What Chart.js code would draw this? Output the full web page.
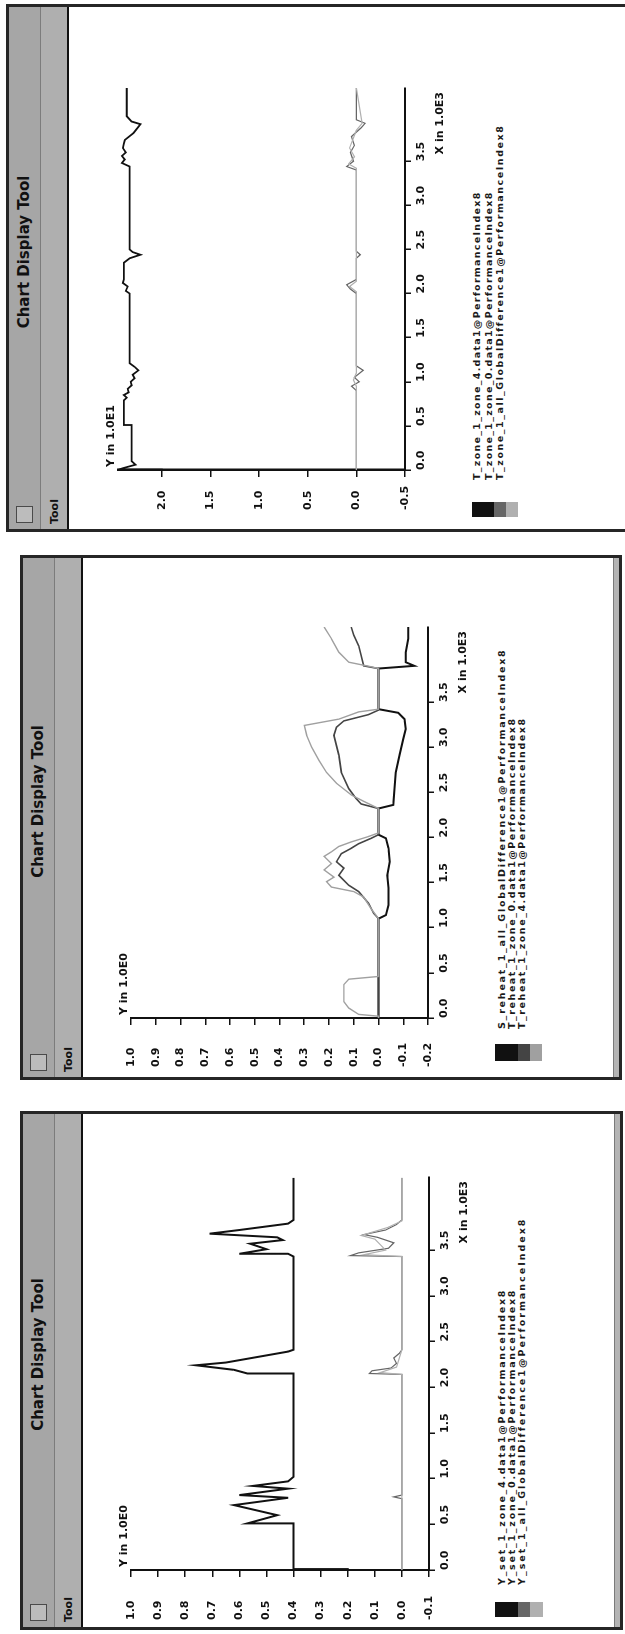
<!DOCTYPE html>
<html>
<head>
<meta charset="utf-8">
<title>Chart Display Tool</title>
<script src="https://cdn.jsdelivr.net/npm/chart.js@4.4.1/dist/chart.umd.min.js"></script>
<style>
  html, body { margin: 0; padding: 0; background: #fff; }
  body { width: 625px; height: 1634px; overflow: hidden; position: relative; }
  /* the desktop is laid out landscape and turned a quarter turn counter-clockwise */
  #desk { position: absolute; left: 0; top: 0; width: 1634px; height: 625px; overflow: hidden; background: #fff;
          transform-origin: 0 0; transform: translate(0, 1634px) rotate(-90deg); }
  .win { position: absolute; box-sizing: border-box; background: #fff; border: 3px solid #262626; }
  .title { position: absolute; left: 0; right: 0; top: 0; height: 31px; background: #a6a6a6; border-bottom: 1px solid #7c7c7c; }
  .title .name { position: absolute; left: 32px; right: 0; top: 6px; text-align: center;
                 font: bold 15px 'DejaVu Sans', sans-serif; color: #111; white-space: nowrap; }
  .close { position: absolute; left: 6px; top: 7px; width: 15px; height: 15px; border: 1px solid #4a4a4a; background: #bcbcbc; }
  .menu { position: absolute; left: 0; right: 0; top: 32px; height: 26px; background: #afafaf; border-bottom: 2px solid #111; }
  .menu span { position: absolute; left: 5px; top: 7px; font: bold 11px 'DejaVu Sans', sans-serif; color: #111; }
  .foot { position: absolute; left: 0; right: 0; bottom: 0; height: 5px; background: #b4b4b4; border-top: 1px solid #7a7a7a; }
  .plot { position: absolute; left: 0; top: 0; }
  .plot canvas { display: block; }
  .sw { position: absolute; }
  .sw i { display: block; }
  .lg { position: absolute; font: bold 9.5px 'DejaVu Sans', sans-serif; color: #1a1a1a; white-space: nowrap; }
  .lg span { display: inline-block; }
</style>
</head>
<body>
<div id="desk">
  <div class="win" style="left:4px;top:20px;width:519px;height:603px">
    <div class="title"><div class="close"></div><div class="name">Chart Display Tool</div></div>
    <div class="menu"><span>Tool</span></div>
    <div class="foot"></div>
  </div>
  <div class="win" style="left:554px;top:20px;width:525px;height:602px">
    <div class="title"><div class="close"></div><div class="name">Chart Display Tool</div></div>
    <div class="menu"><span>Tool</span></div>
    <div class="foot"></div>
  </div>
  <div class="win" style="left:1102px;top:6px;width:528px;height:640px">
    <div class="title"><div class="close"></div><div class="name">Chart Display Tool</div></div>
    <div class="menu"><span>Tool</span></div>
  </div>
  <div class="plot" id="plotSet"><canvas></canvas></div>
  <div class="plot" id="plotReheat"><canvas></canvas></div>
  <div class="plot" id="plotZone"><canvas></canvas></div>
</div>
<script>
// ---------- shared x ticks (time in 1.0E3) ----------
const xTickValues = [0, 0.5, 1.0, 1.5, 2.0, 2.5, 3.0, 3.5];

// ---------- Y_set window ----------
const setYTicks = [-0.1, 0.0, 0.1, 0.2, 0.3, 0.4, 0.5, 0.6, 0.7, 0.8, 0.9, 1.0];
const setZone4Label = 'Y_set_1_zone_4.data1@PerformanceIndex8';
const setZone4X = [0, 0.01, 0.51, 0.51, 0.60, 0.71, 0.79, 0.82, 0.89, 0.92, 0.97, 1.02, 2.15, 2.15, 2.19, 2.24, 2.27, 2.39, 2.41, 3.43, 3.46, 3.46, 3.51, 3.57, 3.61, 3.64, 3.68, 3.72, 3.79, 3.83, 4.29];
const setZone4Y = [0.20, 0.40, 0.40, 0.57, 0.46, 0.62, 0.42, 0.60, 0.42, 0.55, 0.42, 0.40, 0.40, 0.57, 0.62, 0.76, 0.65, 0.42, 0.40, 0.40, 0.42, 0.60, 0.50, 0.56, 0.44, 0.46, 0.71, 0.60, 0.42, 0.40, 0.40];
const setZone0Label = 'Y_set_1_zone_0.data1@PerformanceIndex8';
const setZone0X = [0, 0.78, 0.80, 0.82, 2.14, 2.15, 2.18, 2.21, 2.26, 2.32, 2.37, 2.41, 3.43, 3.44, 3.47, 3.52, 3.58, 3.64, 3.67, 3.72, 3.78, 3.83, 4.29];
const setZone0Y = [0, 0, 0.03, 0, 0, 0.12, 0.11, 0.04, 0.02, 0.03, 0.01, 0, 0, 0.19, 0.16, 0.05, 0.03, 0.09, 0.14, 0.06, 0.02, 0, 0];
const setDiffLabel = 'Y_set_1_all_GlobalDifference1@PerformanceIndex8';
const setDiffX = [0, 2.14, 2.16, 2.22, 2.41, 3.43, 3.45, 3.50, 3.62, 3.66, 3.75, 3.82, 4.29];
const setDiffY = [0, 0, 0.08, 0.02, 0, 0, 0.14, 0.06, 0.10, 0.15, 0.05, 0, 0];

// ---------- reheat window ----------
const reheatYTicks = [-0.2, -0.1, 0.0, 0.1, 0.2, 0.3, 0.4, 0.5, 0.6, 0.7, 0.8, 0.9, 1.0];
const reheatDiffLabel = 'S_reheat_1_all_GlobalDifference1@PerformanceIndex8';
const reheatDiffX = [0, 1.10, 1.14, 1.25, 1.44, 1.58, 1.73, 1.88, 1.99, 2.03, 2.32, 2.36, 2.54, 2.72, 2.91, 3.09, 3.20, 3.31, 3.38, 3.42, 3.87, 3.90, 3.94, 4.05, 4.20, 4.33];
const reheatDiffY = [0, 0, -0.03, -0.04, -0.04, -0.035, -0.045, -0.04, -0.03, 0, 0, -0.06, -0.065, -0.07, -0.085, -0.10, -0.11, -0.105, -0.08, 0, 0, -0.145, -0.11, -0.11, -0.12, -0.12];
const reheatZone0Label = 'T_reheat_1_zone_0.data1@PerformanceIndex8';
const reheatZone0X = [0, 1.10, 1.16, 1.27, 1.40, 1.47, 1.58, 1.66, 1.73, 1.82, 1.88, 1.93, 1.99, 2.03, 2.32, 2.37, 2.43, 2.54, 2.72, 2.91, 3.13, 3.22, 3.29, 3.36, 3.41, 3.87, 3.90, 4.01, 4.12, 4.24, 4.33];
const reheatZone0Y = [0, 0, 0.02, 0.04, 0.08, 0.12, 0.16, 0.14, 0.17, 0.15, 0.11, 0.08, 0.03, 0, 0, 0.07, 0.09, 0.12, 0.15, 0.16, 0.18, 0.17, 0.14, 0.04, 0, 0, 0.06, 0.07, 0.08, 0.10, 0.11];
const reheatZone4Label = 'T_reheat_1_zone_4.data1@PerformanceIndex8';
const reheatZone4X = [0, 0.02, 0.04, 0.11, 0.18, 0.37, 0.43, 0.45, 0.46, 1.10, 1.21, 1.34, 1.40, 1.45, 1.51, 1.56, 1.64, 1.71, 1.79, 1.84, 1.90, 1.95, 2.01, 2.05, 2.32, 2.40, 2.47, 2.60, 2.72, 2.85, 3.00, 3.13, 3.24, 3.31, 3.39, 3.42, 3.87, 3.89, 3.94, 4.05, 4.20, 4.33];
const reheatZone4Y = [0, 0, 0.08, 0.12, 0.14, 0.14, 0.12, 0.04, 0, 0, 0.03, 0.06, 0.10, 0.19, 0.21, 0.18, 0.22, 0.19, 0.22, 0.19, 0.16, 0.11, 0.04, 0, 0, 0.06, 0.11, 0.17, 0.21, 0.24, 0.27, 0.29, 0.30, 0.16, 0.08, 0, 0, 0.03, 0.12, 0.16, 0.19, 0.22];

// ---------- T_zone window (values in 1.0E1) ----------
const zoneYTicks = [-0.5, 0.0, 0.5, 1.0, 1.5, 2.0];
const zoneZone4Label = 'T_zone_1_zone_4.data1@PerformanceIndex8';
const zoneZone4X = [0, 0.005, 0.02, 0.06, 0.10, 0.51, 0.51, 0.79, 0.82, 0.85, 0.88, 0.92, 0.96, 1.00, 1.04, 1.08, 1.13, 1.17, 1.21, 2.00, 2.03, 2.08, 2.12, 2.16, 2.35, 2.40, 2.44, 2.47, 2.50, 3.44, 3.48, 3.52, 3.56, 3.60, 3.65, 3.70, 3.74, 3.82, 3.92, 3.95, 4.01, 4.33];
const zoneZone4Y = [2.0, 2.44, 2.40, 2.27, 2.31, 2.31, 2.39, 2.39, 2.36, 2.39, 2.34, 2.35, 2.31, 2.32, 2.28, 2.30, 2.24, 2.28, 2.33, 2.33, 2.37, 2.35, 2.40, 2.39, 2.39, 2.33, 2.22, 2.30, 2.33, 2.33, 2.41, 2.38, 2.41, 2.37, 2.40, 2.39, 2.38, 2.29, 2.22, 2.31, 2.36, 2.36];
const zoneZone0Label = 'T_zone_1_zone_0.data1@PerformanceIndex8';
const zoneZone0X = [0, 0.90, 0.95, 1.00, 1.05, 1.13, 1.18, 2.00, 2.05, 2.10, 2.16, 2.40, 2.44, 2.48, 3.40, 3.44, 3.50, 3.60, 3.68, 3.78, 3.88, 3.93, 3.97, 4.33];
const zoneZone0Y = [0, 0, 0.05, -0.03, 0.02, -0.07, 0, 0, 0.06, 0.10, 0, 0, -0.04, 0, 0, 0.10, 0.03, 0.06, 0.02, 0.05, -0.05, -0.09, 0, 0];
const zoneDiffLabel = 'T_zone_1_all_GlobalDifference1@PerformanceIndex8';
const zoneDiffX = [0, 0.95, 1.02, 1.10, 2.02, 2.08, 2.14, 3.42, 3.47, 3.55, 3.65, 3.85, 3.93, 4.33];
const zoneDiffY = [0, 0, 0.03, 0, 0, 0.07, 0, 0, 0.08, 0.02, 0.07, 0, -0.06, 0];

// ---------- drawing ----------
const INK = '#111';
const DARK = '#666';
const LIGHT = '#b0b0b0';
const tickFont = { family: "'DejaVu Sans', sans-serif", size: 11, weight: 'bold' };

// unit captions at the top of the y axis and below the right end of the x axis
const unitLabels = {
  id: 'unitLabels',
  afterDraw(chart, args, opts) {
    const { ctx, chartArea: a } = chart;
    ctx.save();
    ctx.font = "bold 11px 'DejaVu Sans', sans-serif";
    ctx.fillStyle = INK;
    ctx.textAlign = 'left';
    ctx.textBaseline = 'alphabetic';
    ctx.fillText(opts.y, a.left + 3, a.top - 4);
    ctx.textAlign = 'right';
    ctx.textBaseline = 'top';
    ctx.fillText(opts.x, a.right - 4, a.bottom + 30);
    ctx.restore();
  }
};

function points(xs, ys) { return xs.map((x, i) => ({ x: x, y: ys[i] })); }

function config(p) {
  return {
    type: 'scatter',
    data: {
      datasets: p.series.map(s => ({
        label: s.label, data: points(s.x, s.y), showLine: true, pointRadius: 0,
        borderColor: s.color, borderWidth: s.width, order: s.order, tension: 0, fill: false
      }))
    },
    options: {
      responsive: false, maintainAspectRatio: false, animation: false, events: [],
      layout: { padding: { left: 0, right: 12, top: 12, bottom: 0 } },
      plugins: { legend: { display: false }, tooltip: { enabled: false }, unitLabels: { x: p.xUnit, y: p.yUnit } },
      scales: {
        x: {
          type: 'linear', position: 'bottom', bounds: 'data', min: 0, max: p.xMax,
          afterBuildTicks: s => { s.ticks = xTickValues.map(v => ({ value: v })); },
          afterFit: s => { s.height = 45; },
          grid: { drawOnChartArea: false, drawTicks: true, tickLength: 6, color: INK, lineWidth: 1.5 },
          border: { display: true, color: INK, width: 2 },
          ticks: { align: 'start', padding: 4, autoSkip: false, maxRotation: 0, color: INK, font: tickFont,
                   callback: v => v.toFixed(1) }
        },
        y: {
          type: 'linear', position: 'left', bounds: 'data', min: p.yMin, max: p.yMax,
          afterBuildTicks: s => { s.ticks = p.yTicks.map(v => ({ value: v })); },
          afterFit: s => { s.width = p.yW; },
          grid: { drawOnChartArea: false, drawTicks: true, tickLength: 7, color: INK, lineWidth: 1.5 },
          border: { display: true, color: INK, width: p.axisW || 2 },
          ticks: { crossAlign: 'far', padding: 4, autoSkip: false, color: INK, font: tickFont,
                   callback: v => v.toFixed(1) }
        }
      }
    },
    plugins: [unitLabels]
  };
}

function buildPanel(p) {
  const desk = document.getElementById('desk');
  const wrap = document.getElementById(p.wrap);
  let canvas = wrap.querySelector('canvas');
  const w0 = p.area.right - p.area.left, h0 = p.area.bottom - p.area.top;
  canvas.width = w0 + p.yW + 40; canvas.height = h0 + 80;
  // first pass: measure how much room the axes take around the plot area
  let chart = new Chart(canvas, config(p));
  let a = chart.chartArea;
  const extraW = chart.width - (a.right - a.left);
  const extraH = chart.height - (a.bottom - a.top);
  chart.destroy();
  wrap.innerHTML = '<canvas></canvas>';
  canvas = wrap.querySelector('canvas');
  canvas.width = Math.round(w0 + extraW); canvas.height = Math.round(h0 + extraH);
  chart = new Chart(canvas, config(p));
  a = chart.chartArea;
  wrap.style.left = (p.area.left - a.left) + 'px';
  wrap.style.top = (p.area.top - a.top) + 'px';

  // legend: stacked colour swatch and one line per series
  const sw = document.createElement('div');
  sw.className = 'sw';
  sw.style.left = p.legend.swLeft + 'px';
  sw.style.top = p.legend.swTop + 'px';
  sw.style.width = p.legend.swW + 'px';
  p.legendOrder.forEach((s, i) => {
    const stripe = document.createElement('i');
    stripe.style.height = p.legend.swH[i] + 'px';
    stripe.style.background = s.color;
    sw.appendChild(stripe);
  });
  desk.appendChild(sw);
  const lg = document.createElement('div');
  lg.className = 'lg';
  lg.style.left = p.legend.txLeft + 'px';
  lg.style.top = p.legend.txTop + 'px';
  lg.style.lineHeight = p.legend.lineH + 'px';
  desk.appendChild(lg);
  p.legendOrder.forEach(s => {
    const line = document.createElement('div');
    const span = document.createElement('span');
    span.textContent = s.label;
    line.appendChild(span);
    lg.appendChild(line);
    // the window font is wide and loosely spaced: stretch each line to that pitch
    const n = s.label.length;
    const natural = span.offsetWidth;
    span.style.letterSpacing = ((n * p.legend.pitch - natural) / n) + 'px';
  });
}

const setSeries = [
  { label: setZone4Label, x: setZone4X, y: setZone4Y, color: INK, width: 2, order: 2 },
  { label: setZone0Label, x: setZone0X, y: setZone0Y, color: DARK, width: 1.2, order: 1 },
  { label: setDiffLabel, x: setDiffX, y: setDiffY, color: LIGHT, width: 1.2, order: 0 }
];
const reheatSeries = [
  { label: reheatDiffLabel, x: reheatDiffX, y: reheatDiffY, color: INK, width: 2, order: 2 },
  { label: reheatZone0Label, x: reheatZone0X, y: reheatZone0Y, color: '#444', width: 1.6, order: 1 },
  { label: reheatZone4Label, x: reheatZone4X, y: reheatZone4Y, color: '#a0a0a0', width: 1.4, order: 0 }
];
const zoneSeries = [
  { label: zoneZone4Label, x: zoneZone4X, y: zoneZone4Y, color: INK, width: 1.8, order: 2 },
  { label: zoneZone0Label, x: zoneZone0X, y: zoneZone0Y, color: DARK, width: 1.2, order: 1 },
  { label: zoneDiffLabel, x: zoneDiffX, y: zoneDiffY, color: LIGHT, width: 1.2, order: 0 }
];

buildPanel({
  wrap: 'plotSet', area: { left: 64, right: 457, top: 131, bottom: 429 },
  xMax: 4.3, yMin: -0.1, yMax: 1.0, yTicks: setYTicks, yW: 50,
  xUnit: 'X in 1.0E3', yUnit: 'Y in 1.0E0',
  series: setSeries, legendOrder: setSeries,
  legend: { swLeft: 17, swTop: 495, swW: 15, swH: [23, 12, 13], txLeft: 49, txTop: 497, lineH: 10, pitch: 7.8 }
});
buildPanel({
  wrap: 'plotReheat', area: { left: 616, right: 1007, top: 131, bottom: 428 },
  xMax: 4.33, yMin: -0.2, yMax: 1.0, yTicks: reheatYTicks, yW: 49,
  xUnit: 'X in 1.0E3', yUnit: 'Y in 1.0E0',
  series: reheatSeries, legendOrder: reheatSeries,
  legend: { swLeft: 573, swTop: 495, swW: 17, swH: [23, 12, 12], txLeft: 605, txTop: 497, lineH: 10, pitch: 7.6 }
});
buildPanel({
  wrap: 'plotZone', area: { left: 1164, right: 1546, top: 118, bottom: 405 },
  xMax: 4.33, yMin: -0.5, yMax: 2.45, yTicks: zoneYTicks, yW: 40, axisW: 2.5,
  xUnit: 'X in 1.0E3', yUnit: 'Y in 1.0E1',
  series: zoneSeries, legendOrder: zoneSeries,
  legend: { swLeft: 1117, swTop: 472, swW: 15, swH: [22, 12, 12], txLeft: 1154, txTop: 471, lineH: 11.5, pitch: 7.4 }
});
</script>
</body>
</html>
